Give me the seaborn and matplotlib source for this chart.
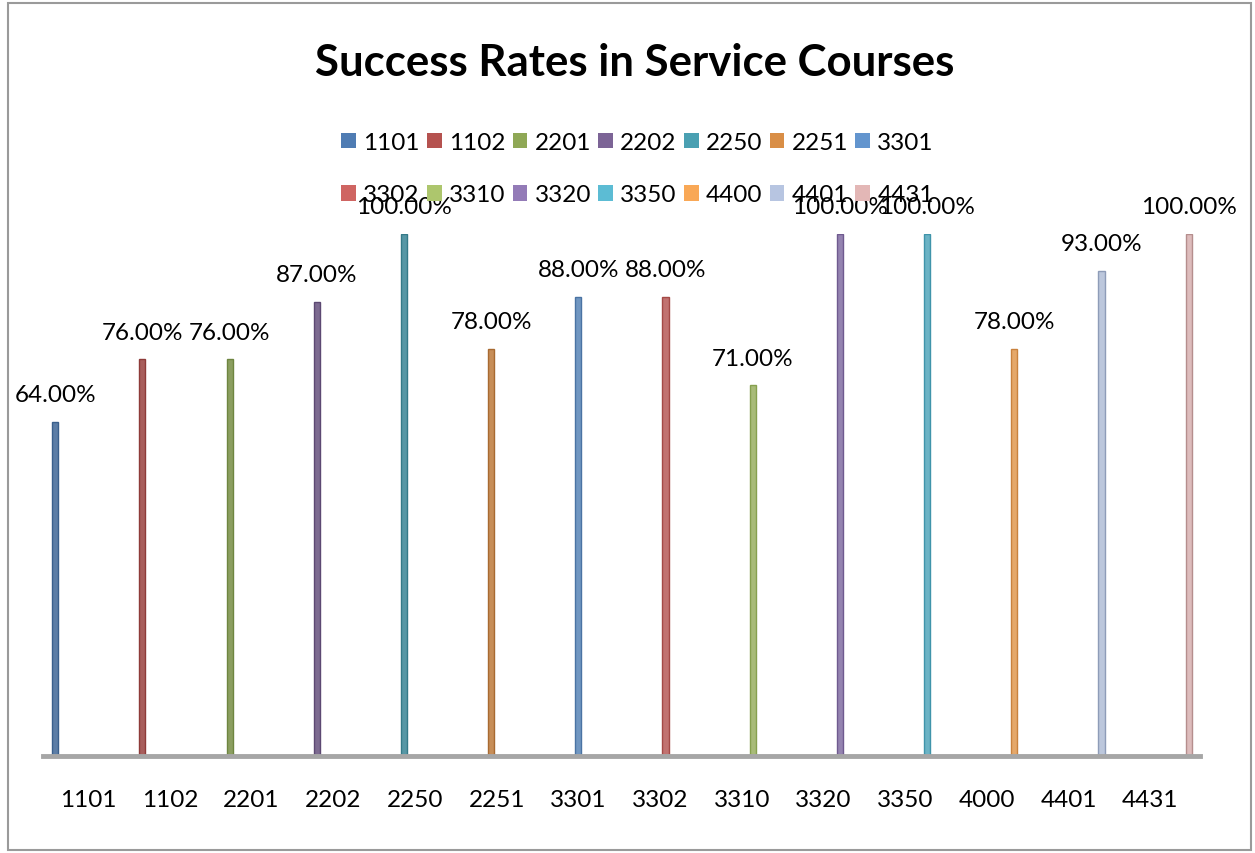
import pandas as pd
import matplotlib.pyplot as plt
import matplotlib.patches as mpatches
import seaborn as sns

# series names (legend) and category labels (x axis)
series = ['1101', '1102', '2201', '2202', '2250', '2251', '3301',
          '3302', '3310', '3320', '3350', '4400', '4401', '4431']
categories = ['1101', '1102', '2201', '2202', '2250', '2251', '3301',
              '3302', '3310', '3320', '3350', '4000', '4401', '4431']
success = [64, 76, 76, 87, 100, 78, 88, 88, 71, 100, 100, 78, 93, 100]

colors = ['#4F7CB3', '#B5524F', '#8FA856', '#7C6496', '#4AA0B2', '#D98E46', '#6395CE',
          '#CF6562', '#ADC66D', '#937BB7', '#5CBCD4', '#F9A856', '#B7C5E1', '#E3B7B6']
edges = ['#3A5F8C', '#8E3B39', '#6E8540', '#5C4872', '#357A88', '#A86A31', '#4A73A3',
         '#A44946', '#86A04E', '#6F5A8F', '#3F94AA', '#C9823E', '#8E9CB8', '#B58E8D']

df = pd.DataFrame({'course': categories, 'series': series, 'rate': success})

sns.set_style("white")
plt.rcParams['font.family'] = ['Lato', 'DejaVu Sans']
plt.rcParams['text.color'] = 'black'
plt.rcParams['xtick.color'] = 'black'

fig = plt.figure(figsize=(12.55, 8.54), dpi=100)
ax = fig.add_axes([43 / 1255, 1 - 757 / 854, (1200 - 43) / 1255, (757 - 235) / 854])

sns.barplot(data=df, x='course', y='rate', hue='series', palette=colors,
            dodge=False, width=0.07, legend=False, ax=ax)
for patch, ec in zip(ax.patches, edges):
    patch.set_edgecolor(ec)
    patch.set_linewidth(1)

ax.set_xlim(-0.14, 13.13)
ax.set_ylim(0, 100)

# data labels
for i, v in enumerate(success):
    ax.annotate(f'{v:.2f}%', (i, v), xytext=(0, 19.5), textcoords='offset points',
                ha='center', va='center', fontsize=17.5, annotation_clip=False)

# category labels sit offset from the bars (3d look)
ax.set_xticks([0.378 + 0.937 * i for i in range(len(categories))])
ax.set_xticklabels(categories, fontsize=17.5)
ax.tick_params(axis='x', length=0, pad=24)
ax.set_yticks([])
ax.set_xlabel('')
ax.set_ylabel('')
for s in ['top', 'right', 'left']:
    ax.spines[s].set_visible(False)
ax.spines['bottom'].set_color('#A6A6A6')
ax.spines['bottom'].set_linewidth(3.5)

fig.text(0.506, 1 - 63 / 854, 'Success Rates in Service Courses', ha='center', va='center',
         fontsize=31.5, fontweight='bold')

# legend: row by row, 7 per row
handles = [mpatches.Patch(facecolor=c, edgecolor='none', label=s) for s, c in zip(series, colors)]
order = []
for col in range(7):
    order += [col, col + 7]
fig.legend([handles[i] for i in order], [series[i] for i in order], ncol=7,
           loc='upper center', bbox_to_anchor=(0.508, 1 - 111 / 854), frameon=False,
           fontsize=17.5, handlelength=0.6, handleheight=0.6, handletextpad=0.3,
           columnspacing=0.3, labelspacing=1.3)

# chart border
fig.patches.append(mpatches.Rectangle((8 / 1255, 3 / 854), 1 - 12 / 1255, 1 - 7 / 854,
                                      transform=fig.transFigure, fill=False,
                                      edgecolor='#9A9A9A', linewidth=1.5))

fig.savefig('out.png', dpi=100)
